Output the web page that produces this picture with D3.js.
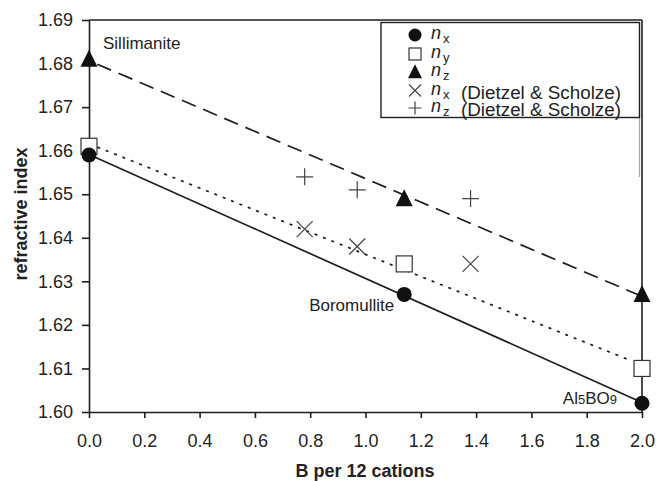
<!DOCTYPE html>
<html><head><meta charset="utf-8">
<script src="https://cdn.jsdelivr.net/npm/d3@7"></script>
<style>body{margin:0;background:#fff}svg{display:block}text{font-family:"Liberation Sans",Arial,sans-serif;fill:#222}</style>
</head><body><svg id="c" width="658" height="481"></svg>
<script>
// ---- data ----
const bValues = [0.0, 1.14, 2.0];
const nxValues = [1.659, 1.627, 1.602];
const nyValues = [1.661, 1.634, 1.610];
const nzValues = [1.681, 1.649, 1.627];
const dsB = [0.78, 0.97, 1.38];
const dsNx = [1.642, 1.638, 1.634];
const dsNz = [1.654, 1.651, 1.649];
const xTicks = [0.0,0.2,0.4,0.6,0.8,1.0,1.2,1.4,1.6,1.8,2.0];
const yTicks = [1.60,1.61,1.62,1.63,1.64,1.65,1.66,1.67,1.68,1.69];
const mineralLabels = ["Sillimanite","Boromullite","Al5BO9"];

const svg = d3.select("#c");
const L = 89, R = 642, T = 20, B = 412;
const x = d3.scaleLinear().domain([0,2]).range([L,R]);
const y = d3.scaleLinear().domain([1.60,1.69]).range([B,T]);
const ink = "#1e1e1e";

// frame
svg.append("line").attr("x1",L).attr("x2",R).attr("y1",T).attr("y2",T).attr("stroke",ink).attr("stroke-width",1.6);
svg.append("line").attr("x1",R).attr("x2",R).attr("y1",T).attr("y2",B).attr("stroke",ink).attr("stroke-width",1.6);
svg.append("line").attr("x1",R-2.5).attr("x2",R-2.5).attr("y1",118).attr("y2",177).attr("stroke","#aaa").attr("stroke-width",1.2);

const xa = svg.append("g").attr("transform",`translate(0,${B})`)
  .call(d3.axisBottom(x).tickValues(xTicks).tickFormat(d3.format(".1f")).tickSize(6).tickPadding(16).tickSizeOuter(0));
const ya = svg.append("g").attr("transform",`translate(${L},0)`)
  .call(d3.axisLeft(y).tickValues(yTicks).tickFormat(d3.format(".2f")).tickSize(7).tickPadding(9).tickSizeOuter(0));
[xa,ya].forEach(g=>{
  g.select(".domain").attr("stroke",ink).attr("stroke-width",1.6);
  g.selectAll(".tick line").attr("stroke",ink).attr("stroke-width",1.6);
  g.selectAll(".tick text").attr("font-size",18).attr("font-family","Liberation Sans, Arial, sans-serif").attr("fill","#222");
});

// regression lines
function fit(xs, ys){
  const mx=d3.mean(xs), my=d3.mean(ys);
  let sxy=0,sxx=0; xs.forEach((v,i)=>{sxy+=(v-mx)*(ys[i]-my);sxx+=(v-mx)*(v-mx);});
  const s=sxy/sxx; return [my-s*mx, s];
}
function drawFit(ys, dash, x0, x1){
  const [a,s]=fit(bValues,ys);
  svg.append("line").attr("x1",x(x0)).attr("y1",y(a+s*x0)).attr("x2",x(x1)).attr("y2",y(a+s*x1))
    .attr("stroke",ink).attr("stroke-width",1.7).attr("stroke-dasharray",dash);
}
drawFit(nxValues,null,0,2);
drawFit(nyValues,"3,6",0,1.95);
drawFit(nzValues,"15,8",0.03,2);

// markers
function circle(g,cx,cy,r){g.append("circle").attr("cx",cx).attr("cy",cy).attr("r",r).attr("fill","#111");}
function square(g,cx,cy,s){g.append("rect").attr("x",cx-s/2).attr("y",cy-s/2).attr("width",s).attr("height",s).attr("fill","#fff").attr("stroke","#333").attr("stroke-width",1.2);}
function tri(g,cx,cy,s){g.append("path").attr("d",`M${cx},${cy-s*0.55}L${cx+s/2},${cy+s*0.45}L${cx-s/2},${cy+s*0.45}Z`).attr("fill","#111");}
function cross(g,cx,cy,s){const h=s/2;g.append("path").attr("d",`M${cx-h},${cy-h}L${cx+h},${cy+h}M${cx-h},${cy+h}L${cx+h},${cy-h}`).attr("stroke","#444").attr("stroke-width",1.2).attr("fill","none");}
function plus(g,cx,cy,s){const h=s/2;g.append("path").attr("d",`M${cx-h},${cy}L${cx+h},${cy}M${cx},${cy-h}L${cx},${cy+h}`).attr("stroke","#444").attr("stroke-width",1.2).attr("fill","none");}

const m = svg.append("g");
bValues.forEach((b,i)=>{ square(m,x(b),y(nyValues[i]),16); });
bValues.forEach((b,i)=>{ tri(m,x(b),y(nzValues[i]),17); });
bValues.forEach((b,i)=>{ circle(m,x(b),y(nxValues[i]),7.5); });
dsB.forEach((b,i)=>{ cross(m,x(b),y(dsNx[i]),16); plus(m,x(b),y(dsNz[i]),17); });

// mineral labels
svg.append("text").attr("x",x(bValues[0])+14).attr("y",y(nzValues[0])-10).attr("font-size",17).text(mineralLabels[0]);
svg.append("text").attr("x",x(bValues[1])-10).attr("y",y(nxValues[1])+17).attr("text-anchor","end").attr("font-size",17).text(mineralLabels[1]);
const al = svg.append("text").attr("x",x(bValues[2])-25).attr("y",y(nxValues[2])+1).attr("text-anchor","end").attr("font-size",17);
al.append("tspan").text("Al"); al.append("tspan").attr("font-size",13).text("5");
al.append("tspan").text("BO"); al.append("tspan").attr("font-size",13).text("9");

// axis titles
svg.append("text").attr("x",365).attr("y",477).attr("text-anchor","middle").attr("font-size",18).attr("font-weight","bold").text("B per 12 cations");
svg.append("text").attr("transform","translate(27,214) rotate(-90)").attr("text-anchor","middle").attr("font-size",18).attr("font-weight","bold").text("refractive index");

// legend
const lg = svg.append("g");
lg.append("rect").attr("x",381).attr("y",22.5).attr("width",258.5).attr("height",95).attr("fill","#fff").attr("stroke",ink).attr("stroke-width",1.4);
const legendItems = [
  {sym:"circle", sub:"x", extra:""},
  {sym:"square", sub:"y", extra:""},
  {sym:"tri", sub:"z", extra:""},
  {sym:"cross", sub:"x", extra:"(Dietzel & Scholze)"},
  {sym:"plus", sub:"z", extra:"(Dietzel & Scholze)"}
];
const rowY = [35, 54, 72, 90.5, 108];
legendItems.forEach((d,i)=>{
  const cy = rowY[i], cx = 415;
  if(d.sym==="circle") circle(lg,cx,cy,6.5);
  if(d.sym==="square") square(lg,cx,cy,12);
  if(d.sym==="tri") tri(lg,cx,cy,14);
  if(d.sym==="cross") cross(lg,cx,cy,12);
  if(d.sym==="plus") plus(lg,cx,cy,13);
  const t = lg.append("text").attr("x",431).attr("y",cy+4).attr("font-size",18);
  t.append("tspan").attr("font-style","italic").text("n");
  t.append("tspan").attr("font-size",13).attr("dy",4).attr("dx",2).text(d.sub);
  if(d.extra) lg.append("text").attr("x",461).attr("y",cy+8).attr("font-size",18).attr("textLength",160).attr("lengthAdjust","spacingAndGlyphs").text(d.extra);
});
</script></body></html>
